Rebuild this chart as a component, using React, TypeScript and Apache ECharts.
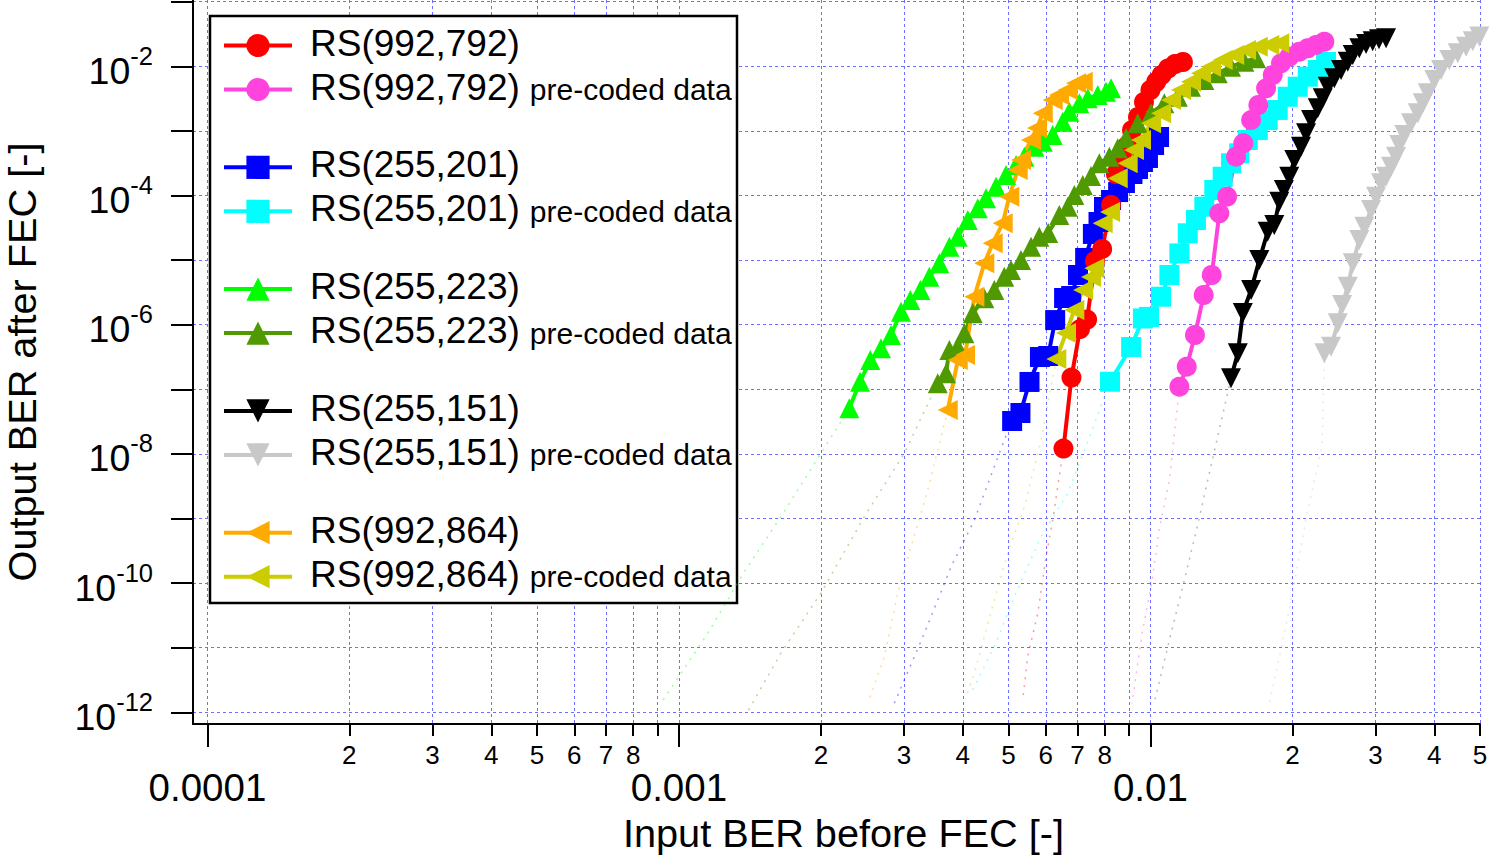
import React, { useEffect, useRef } from 'react';
import * as echarts from 'echarts';

const FONT = '"Liberation Sans", Arial, Helvetica, sans-serif';

// Axis ranges
const X_MIN = 9.32e-5;
const X_MAX = 0.05;
const Y_MIN = 6.6e-13;
const Y_MAX = 0.1062;

// Tick values
const xMajorTicks = [1e-4, 1e-3, 1e-2];
const xAllTicks = [
  1e-4, 2e-4, 3e-4, 4e-4, 5e-4, 6e-4, 7e-4, 8e-4, 9e-4,
  1e-3, 2e-3, 3e-3, 4e-3, 5e-3, 6e-3, 7e-3, 8e-3, 9e-3,
  1e-2, 2e-2, 3e-2, 4e-2, 0.0499999,
];
const xMinorLabels = [
  2e-4, 3e-4, 4e-4, 5e-4, 6e-4, 7e-4, 8e-4,
  2e-3, 3e-3, 4e-3, 5e-3, 6e-3, 7e-3, 8e-3,
  2e-2, 3e-2, 4e-2, 0.0499999,
];
const yTicks = [1e-12, 1e-11, 1e-10, 1e-9, 1e-8, 1e-7, 1e-6, 1e-5, 1e-4, 1e-3, 1e-2, 1e-1];
const yLabelTicks = [1e-12, 1e-10, 1e-8, 1e-6, 1e-4, 1e-2];

// Legend entries (grouped in pairs)
const legendGroups = [
  ['RS(992,792)', 'RS(992,792) pre-coded data'],
  ['RS(255,201)', 'RS(255,201) pre-coded data'],
  ['RS(255,223)', 'RS(255,223) pre-coded data'],
  ['RS(255,151)', 'RS(255,151) pre-coded data'],
  ['RS(992,864)', 'RS(992,864) pre-coded data'],
];

// ---- Measured series (input BER, output BER) ----
const rs992_792_x = [6.54e-3, 6.80e-3, 7.09e-3, 7.34e-3, 7.63e-3, 7.90e-3, 8.25e-3, 8.45e-3, 8.70e-3, 8.92e-3, 9.14e-3, 9.41e-3, 9.69e-3, 1.0e-2, 1.028e-2, 1.056e-2, 1.090e-2, 1.128e-2, 1.172e-2];
const rs992_792_y = [1.21e-8, 1.52e-7, 8.57e-7, 1.20e-6, 9.68e-6, 1.49e-5, 7.13e-5, 2.15e-4, 3.81e-4, 5.84e-4, 1.03e-3, 1.64e-3, 2.80e-3, 4.30e-3, 5.71e-3, 7.33e-3, 9.25e-3, 1.085e-2, 1.166e-2];

const rs992_792p_x = [1.152e-2, 1.194e-2, 1.243e-2, 1.297e-2, 1.349e-2, 1.400e-2, 1.454e-2, 1.519e-2, 1.574e-2, 1.635e-2, 1.694e-2, 1.759e-2, 1.817e-2, 1.892e-2, 1.970e-2, 2.069e-2, 2.156e-2, 2.245e-2, 2.338e-2];
const rs992_792p_y = [1.10e-7, 2.24e-7, 6.93e-7, 2.88e-6, 5.88e-6, 5.30e-5, 9.58e-5, 3.99e-4, 6.43e-4, 1.47e-3, 2.52e-3, 4.56e-3, 7.33e-3, 1.113e-2, 1.408e-2, 1.683e-2, 1.90e-2, 2.14e-2, 2.40e-2];

const rs255_201_x = [5.09e-3, 5.30e-3, 5.54e-3, 5.83e-3, 6.07e-3, 6.28e-3, 6.56e-3, 6.79e-3, 7.02e-3, 7.27e-3, 7.55e-3, 7.76e-3, 7.97e-3, 8.25e-3, 8.54e-3, 8.83e-3, 9.16e-3, 9.41e-3, 9.64e-3, 9.88e-3, 1.018e-2, 1.043e-2];
const rs255_201_y = [3.23e-8, 4.30e-8, 1.30e-7, 3.16e-7, 3.28e-7, 1.18e-6, 2.59e-6, 2.78e-6, 5.88e-6, 1.08e-5, 2.54e-5, 3.89e-5, 6.64e-5, 8.52e-5, 1.13e-4, 1.56e-4, 2.15e-4, 2.57e-4, 3.30e-4, 3.81e-4, 6.05e-4, 8.05e-4];

const rs255_201p_x = [8.21e-3, 9.10e-3, 9.64e-3, 9.93e-3, 1.053e-2, 1.097e-2, 1.152e-2, 1.200e-2, 1.249e-2, 1.301e-2, 1.366e-2, 1.423e-2, 1.482e-2, 1.543e-2, 1.608e-2, 1.689e-2, 1.773e-2, 1.862e-2, 1.955e-2, 2.053e-2, 2.156e-2, 2.264e-2, 2.357e-2];
const rs255_201p_y = [1.31e-7, 4.52e-7, 1.25e-6, 1.32e-6, 2.71e-6, 5.88e-6, 1.27e-5, 2.60e-5, 4.18e-5, 6.71e-5, 1.22e-4, 1.95e-4, 3.15e-4, 4.50e-4, 7.23e-4, 1.03e-3, 1.47e-3, 2.11e-3, 3.38e-3, 4.83e-3, 6.90e-3, 8.76e-3, 1.166e-2];

const rs255_223_x = [2.298e-3, 2.422e-3, 2.546e-3, 2.683e-3, 2.817e-3, 2.958e-3, 3.096e-3, 3.251e-3, 3.397e-3, 3.567e-3, 3.746e-3, 3.903e-3, 4.099e-3, 4.303e-3, 4.480e-3, 4.704e-3, 4.939e-3, 5.188e-3, 5.403e-3, 5.673e-3, 5.910e-3, 6.205e-3, 6.516e-3, 6.730e-3, 7.067e-3, 7.362e-3, 7.731e-3, 8.050e-3, 8.25e-3];
const rs255_223_y = [5.08e-8, 1.31e-7, 2.84e-7, 4.31e-7, 6.93e-7, 1.59e-6, 2.41e-6, 3.44e-6, 5.53e-6, 8.92e-6, 1.61e-5, 2.30e-5, 4.18e-5, 6.34e-5, 9.05e-5, 1.37e-4, 2.08e-4, 2.97e-4, 3.99e-4, 5.69e-4, 6.80e-4, 8.64e-4, 1.39e-3, 1.98e-3, 2.67e-3, 3.20e-3, 3.59e-3, 4.04e-3, 4.56e-3];

const rs255_223p_x = [3.539e-3, 3.686e-3, 3.746e-3, 3.903e-3, 4.031e-3, 4.199e-3, 4.443e-3, 4.665e-3, 4.898e-3, 5.061e-3, 5.315e-3, 5.582e-3, 5.812e-3, 6.07e-3, 6.409e-3, 6.677e-3, 6.896e-3, 7.185e-3, 7.482e-3, 7.791e-3, 8.182e-3, 8.524e-3, 8.877e-3, 9.40e-3, 1.003e-2, 1.070e-2, 1.143e-2, 1.219e-2, 1.301e-2, 1.389e-2, 1.482e-2, 1.582e-2, 1.675e-2];
const rs255_223p_y = [1.24e-7, 1.77e-7, 4.06e-7, 4.56e-7, 7.36e-7, 1.50e-6, 2.56e-6, 3.44e-6, 5.53e-6, 7.03e-6, 1.00e-5, 1.61e-5, 2.30e-5, 2.63e-5, 4.99e-5, 6.71e-5, 1.02e-4, 1.45e-4, 2.00e-4, 3.15e-4, 3.99e-4, 5.38e-4, 7.76e-4, 1.31e-3, 1.87e-3, 2.67e-3, 3.38e-3, 4.83e-3, 6.14e-3, 7.79e-3, 9.86e-3, 1.178e-2, 1.330e-2];

const rs255_151_x = [1.482e-2, 1.532e-2, 1.570e-2, 1.635e-2, 1.702e-2, 1.773e-2, 1.831e-2, 1.876e-2, 1.919e-2, 1.970e-2, 2.019e-2, 2.086e-2, 2.138e-2, 2.191e-2, 2.264e-2, 2.320e-2, 2.377e-2, 2.455e-2, 2.537e-2, 2.621e-2, 2.686e-2, 2.773e-2, 2.866e-2, 2.961e-2, 3.053e-2, 3.160e-2];
const rs255_151_y = [1.48e-7, 3.61e-7, 1.52e-6, 3.44e-6, 1.00e-5, 2.75e-5, 3.49e-5, 8.02e-5, 1.22e-4, 1.95e-4, 3.54e-4, 5.69e-4, 9.18e-4, 1.47e-3, 2.24e-3, 3.20e-3, 4.83e-3, 6.52e-3, 8.76e-3, 1.178e-2, 1.496e-2, 1.90e-2, 2.21e-2, 2.45e-2, 2.62e-2, 2.72e-2];

const rs255_151p_x = [2.338e-2, 2.415e-2, 2.497e-2, 2.550e-2, 2.621e-2, 2.686e-2, 2.773e-2, 2.842e-2, 2.937e-2, 3.010e-2, 3.084e-2, 3.160e-2, 3.238e-2, 3.318e-2, 3.372e-2, 3.455e-2, 3.570e-2, 3.689e-2, 3.780e-2, 3.874e-2, 4.000e-2, 4.134e-2, 4.305e-2, 4.485e-2, 4.672e-2, 4.826e-2, 4.984e-2];
const rs255_151p_y = [3.61e-7, 4.56e-7, 1.05e-6, 2.02e-6, 3.87e-6, 8.92e-6, 2.05e-5, 3.29e-5, 5.96e-5, 9.58e-5, 1.55e-4, 1.95e-4, 2.79e-4, 3.99e-4, 6.05e-4, 8.64e-4, 1.31e-3, 1.87e-3, 2.67e-3, 3.82e-3, 6.14e-3, 8.76e-3, 1.252e-2, 1.589e-2, 2.01e-2, 2.45e-2, 2.90e-2];

const rs992_864_x = [3.717e-3, 3.903e-3, 4.045e-3, 4.232e-3, 4.443e-3, 4.629e-3, 4.860e-3, 5.02e-3, 5.23e-3, 5.315e-3, 5.582e-3, 5.747e-3, 5.91e-3, 6.205e-3, 6.40e-3, 6.677e-3, 6.955e-3, 7.185e-3];
const rs992_864_y = [4.78e-8, 2.84e-7, 3.40e-7, 2.71e-6, 8.92e-6, 1.82e-5, 3.71e-5, 9.58e-5, 2.48e-4, 3.54e-4, 7.23e-4, 1.11e-3, 1.87e-3, 3.01e-3, 3.59e-3, 4.30e-3, 5.45e-3, 5.78e-3];

const rs992_864p_x = [6.316e-3, 6.622e-3, 6.896e-3, 7.197e-3, 7.482e-3, 7.603e-3, 7.92e-3, 8.21e-3, 8.524e-3, 8.95e-3, 9.23e-3, 9.55e-3, 1.003e-2, 1.053e-2, 1.106e-2, 1.161e-2, 1.219e-2, 1.280e-2, 1.344e-2, 1.423e-2, 1.506e-2, 1.595e-2, 1.689e-2, 1.787e-2, 1.876e-2];
const rs992_864p_y = [2.94e-7, 7.44e-7, 1.69e-6, 3.44e-6, 5.47e-6, 7.47e-6, 3.71e-5, 5.55e-5, 1.85e-4, 3.15e-4, 5.06e-4, 7.23e-4, 1.31e-3, 1.87e-3, 3.01e-3, 4.30e-3, 5.78e-3, 7.79e-3, 9.86e-3, 1.252e-2, 1.496e-2, 1.788e-2, 2.01e-2, 2.14e-2, 2.27e-2];

// ---- Faint extrapolation curves (down to 1e-12) ----
const ext992_792_x = [6.54e-3, 6.205e-3, 6.005e-3, 5.768e-3, 5.49e-3, 5.36e-3];
const ext992_792_y = [1.21e-8, 9.48e-10, 2.56e-10, 3.41e-11, 7.26e-12, 1.55e-12];
const ext992_792p_x = [1.152e-2, 1.097e-2, 1.043e-2, 1.009e-2, 9.60e-3, 9.14e-3];
const ext992_792p_y = [1.10e-7, 3.94e-9, 6.64e-10, 1.12e-10, 1.67e-11, 1.38e-12];
const ext255_201_x = [5.09e-3, 4.898e-3, 4.232e-3, 3.777e-3, 3.315e-3, 2.863e-3];
const ext255_201_y = [3.23e-8, 1.64e-8, 9.48e-10, 1.79e-10, 1.67e-11, 1.38e-12];
const ext255_201p_x = [8.21e-3, 7.482e-3, 6.677e-3, 5.861e-3, 5.145e-3, 4.665e-3, 4.164e-3];
const ext255_201p_y = [1.31e-7, 2.11e-8, 2.45e-9, 5.23e-10, 6.16e-11, 1.04e-11, 1.97e-12];
const ext255_223_x = [2.298e-3, 1.646e-3, 1.376e-3, 1.151e-3, 9.16e-4];
const ext255_223_y = [5.08e-8, 1.07e-9, 1.50e-10, 1.67e-11, 1.38e-12];
const ext255_223p_x = [3.539e-3, 3.006e-3, 2.473e-3, 2.001e-3, 1.646e-3, 1.399e-3];
const ext255_223p_y = [1.24e-7, 1.02e-8, 1.07e-9, 7.03e-11, 8.28e-12, 1.02e-12];
const ext255_151_x = [1.482e-2, 1.338e-2, 1.252e-2, 1.171e-2, 1.097e-2, 1.018e-2];
const ext255_151_y = [1.48e-7, 5.63e-9, 6.64e-10, 8.80e-11, 1.32e-11, 1.38e-12];
const ext255_151p_x = [2.338e-2, 2.312e-2, 2.163e-2, 2.025e-2, 1.911e-2, 1.788e-2];
const ext255_151p_y = [3.61e-7, 1.29e-8, 1.52e-9, 1.12e-10, 1.32e-11, 1.38e-12];
const ext992_864_x = [3.717e-3, 3.37e-3, 3.107e-3, 2.911e-3, 2.727e-3, 2.515e-3];
const ext992_864_y = [4.78e-8, 2.76e-9, 3.66e-10, 6.95e-11, 7.26e-12, 1.38e-12];
const ext992_864p_x = [6.316e-3, 5.861e-3, 5.403e-3, 4.98e-3, 4.665e-3, 4.232e-3, 4.064e-3];
const ext992_864p_y = [2.94e-7, 1.64e-8, 1.52e-9, 2.89e-10, 5.47e-11, 4.02e-12, 1.74e-12];

const zip = (xs: number[], ys: number[]) => xs.map((x, i) => [x, ys[i]]);

const C = {
  red: '#ff0000',
  pink: '#ff44dd',
  blue: '#0000ff',
  cyan: '#00ffff',
  lime: '#00ff00',
  dkgreen: '#4f9a00',
  black: '#000000',
  gray: '#c8c8c8',
  orange: '#ffaa00',
  olive: '#cccc00',
};

const dataSeries = (name: string, xs: number[], ys: number[], color: string, symbol: string, rotate: number) => ({
  type: 'line',
  name,
  data: zip(xs, ys),
  xAxisIndex: 0,
  yAxisIndex: 0,
  symbol,
  symbolSize: 20,
  symbolRotate: rotate,
  showAllSymbol: true,
  lineStyle: { color, width: 4 },
  itemStyle: { color, borderWidth: 0 },
  emphasis: { disabled: true },
  silent: true,
});

const extSeries = (xs: number[], ys: number[], color: string) => ({
  type: 'line',
  name: '',
  data: zip(xs, ys),
  xAxisIndex: 0,
  yAxisIndex: 0,
  symbol: 'none',
  lineStyle: { color, width: 1.5, type: [2, 6], opacity: 0.4 },
  emphasis: { disabled: true },
  silent: true,
});

const gridLine = { color: '#6f6fff', width: 1, type: [3, 3] };

export default function App() {
  const ref = useRef<HTMLDivElement>(null);

  useEffect(() => {
    if (!ref.current) return;
    const chart = echarts.init(ref.current, null, { renderer: 'svg' });

    const legendRich = {
      a: { fontFamily: FONT, fontSize: 37, lineHeight: 32, verticalAlign: 'bottom', color: '#000', padding: [0, 0, 0, 13] },
      b: { fontFamily: FONT, fontSize: 30, verticalAlign: 'bottom', color: '#000', padding: [0, 0, 1, 10] },
    };

    const option: any = {
      animation: false,
      backgroundColor: '#ffffff',
      grid: { left: 193, right: 9, top: 0, bottom: 131, containLabel: false, outerBoundsMode: 'none' },
      graphic: [
        {
          type: 'rect',
          z: 3,
          shape: { x: 210, y: 16, width: 527, height: 587 },
          style: { fill: '#ffffff', stroke: '#000000', lineWidth: 2.5 },
          silent: true,
        },
      ],
      legend: legendGroups.map((g, i) => ({
        data: g,
        orient: 'vertical',
        left: 222,
        top: 24.5 + i * 121.8,
        itemWidth: 68,
        itemHeight: 29,
        itemGap: 7,
        padding: 0,
        selectedMode: false,
        z: 5,
        lineStyle: { width: 4 },
        formatter: (name: string) =>
          name.endsWith(' pre-coded data')
            ? `{a|${name.replace(' pre-coded data', '')}}{b|pre-coded data}`
            : `{a|${name}}`,
        textStyle: { fontFamily: FONT, color: '#000', rich: legendRich },
      })),
      xAxis: [
        {
          type: 'log',
          logBase: 10,
          position: 'bottom',
          min: X_MIN,
          max: X_MAX,
          name: 'Input BER before FEC [-]',
          nameLocation: 'middle',
          nameGap: 89,
          nameMoveOverlap: false,
          nameTextStyle: { fontFamily: FONT, fontSize: 39.7, color: '#000', padding: [0, 0, 0, 14] },
          axisLine: { show: true, lineStyle: { color: '#000', width: 2 } },
          axisTick: { show: true, inside: false, length: 23, lineStyle: { color: '#000', width: 2 }, customValues: xMajorTicks },
          axisLabel: {
            show: true,
            customValues: xMajorTicks,
            margin: 43.5,
            fontFamily: FONT,
            fontSize: 38.5,
            color: '#000',
            formatter: (v: number) => {
              const e = Math.round(Math.log10(v));
              return v.toFixed(-e);
            },
          },
          splitLine: { show: false },
          minorTick: { show: false },
        },
        {
          type: 'log',
          logBase: 10,
          position: 'bottom',
          min: X_MIN,
          max: X_MAX,
          axisLine: { show: false },
          axisTick: { show: true, inside: false, length: 12, lineStyle: { color: '#000', width: 2 }, customValues: xAllTicks },
          axisLabel: {
            show: true,
            customValues: xMinorLabels,
            margin: 17.5,
            fontFamily: FONT,
            fontSize: 26,
            color: '#000',
            formatter: (v: number) => {
              const e = Math.floor(Math.log10(v) + 1e-6);
              return String(Math.round(v / Math.pow(10, e)));
            },
          },
          splitLine: { show: true, lineStyle: gridLine },
          minorTick: { show: false },
        },
      ],
      yAxis: {
        type: 'log',
        logBase: 10,
        position: 'left',
        min: Y_MIN,
        max: Y_MAX,
        name: 'Output BER after FEC [-]',
        nameLocation: 'middle',
        nameGap: 151,
        nameMoveOverlap: false,
        nameTextStyle: { fontFamily: FONT, fontSize: 39.7, color: '#000' },
        axisLine: { show: true, lineStyle: { color: '#000', width: 2 } },
        axisTick: { show: true, inside: false, length: 22, lineStyle: { color: '#000', width: 2 }, customValues: yTicks },
        axisLabel: {
          show: true,
          customValues: yLabelTicks,
          margin: 40,
          fontFamily: FONT,
          color: '#000',
          formatter: (v: number) => `{b|10}{s|${Math.round(Math.log10(v))}}`,
          rich: {
            b: { fontFamily: FONT, fontSize: 37.5, lineHeight: 47, verticalAlign: 'bottom', color: '#000' },
            s: { fontFamily: FONT, fontSize: 25.5, verticalAlign: 'top', color: '#000' },
          },
        },
        splitLine: { show: true, lineStyle: gridLine },
        minorTick: { show: false },
      },
      series: [
        extSeries(ext255_223_x, ext255_223_y, C.lime),
        extSeries(ext255_223p_x, ext255_223p_y, C.dkgreen),
        extSeries(ext992_864_x, ext992_864_y, C.orange),
        extSeries(ext255_201_x, ext255_201_y, C.blue),
        extSeries(ext992_864p_x, ext992_864p_y, C.olive),
        extSeries(ext992_792_x, ext992_792_y, C.red),
        extSeries(ext255_201p_x, ext255_201p_y, C.cyan),
        extSeries(ext992_792p_x, ext992_792p_y, C.pink),
        extSeries(ext255_151_x, ext255_151_y, '#555555'),
        extSeries(ext255_151p_x, ext255_151p_y, C.gray),
        dataSeries('RS(255,201)', rs255_201_x, rs255_201_y, C.blue, 'rect', 0),
        dataSeries('RS(255,201) pre-coded data', rs255_201p_x, rs255_201p_y, C.cyan, 'rect', 0),
        dataSeries('RS(992,792)', rs992_792_x, rs992_792_y, C.red, 'circle', 0),
        dataSeries('RS(992,792) pre-coded data', rs992_792p_x, rs992_792p_y, C.pink, 'circle', 0),
        dataSeries('RS(255,223)', rs255_223_x, rs255_223_y, C.lime, 'triangle', 0),
        dataSeries('RS(255,223) pre-coded data', rs255_223p_x, rs255_223p_y, C.dkgreen, 'triangle', 0),
        dataSeries('RS(255,151)', rs255_151_x, rs255_151_y, C.black, 'triangle', 180),
        dataSeries('RS(255,151) pre-coded data', rs255_151p_x, rs255_151p_y, C.gray, 'triangle', 180),
        dataSeries('RS(992,864)', rs992_864_x, rs992_864_y, C.orange, 'triangle', 90),
        dataSeries('RS(992,864) pre-coded data', rs992_864p_x, rs992_864p_y, C.olive, 'triangle', 90),
      ],
    };

    chart.setOption(option);
    return () => {
      chart.dispose();
    };
  }, []);

  return (
    <div
      ref={ref}
      style={{ position: 'fixed', left: 0, top: 0, width: 1489, height: 855, background: '#fff' }}
    />
  );
}
